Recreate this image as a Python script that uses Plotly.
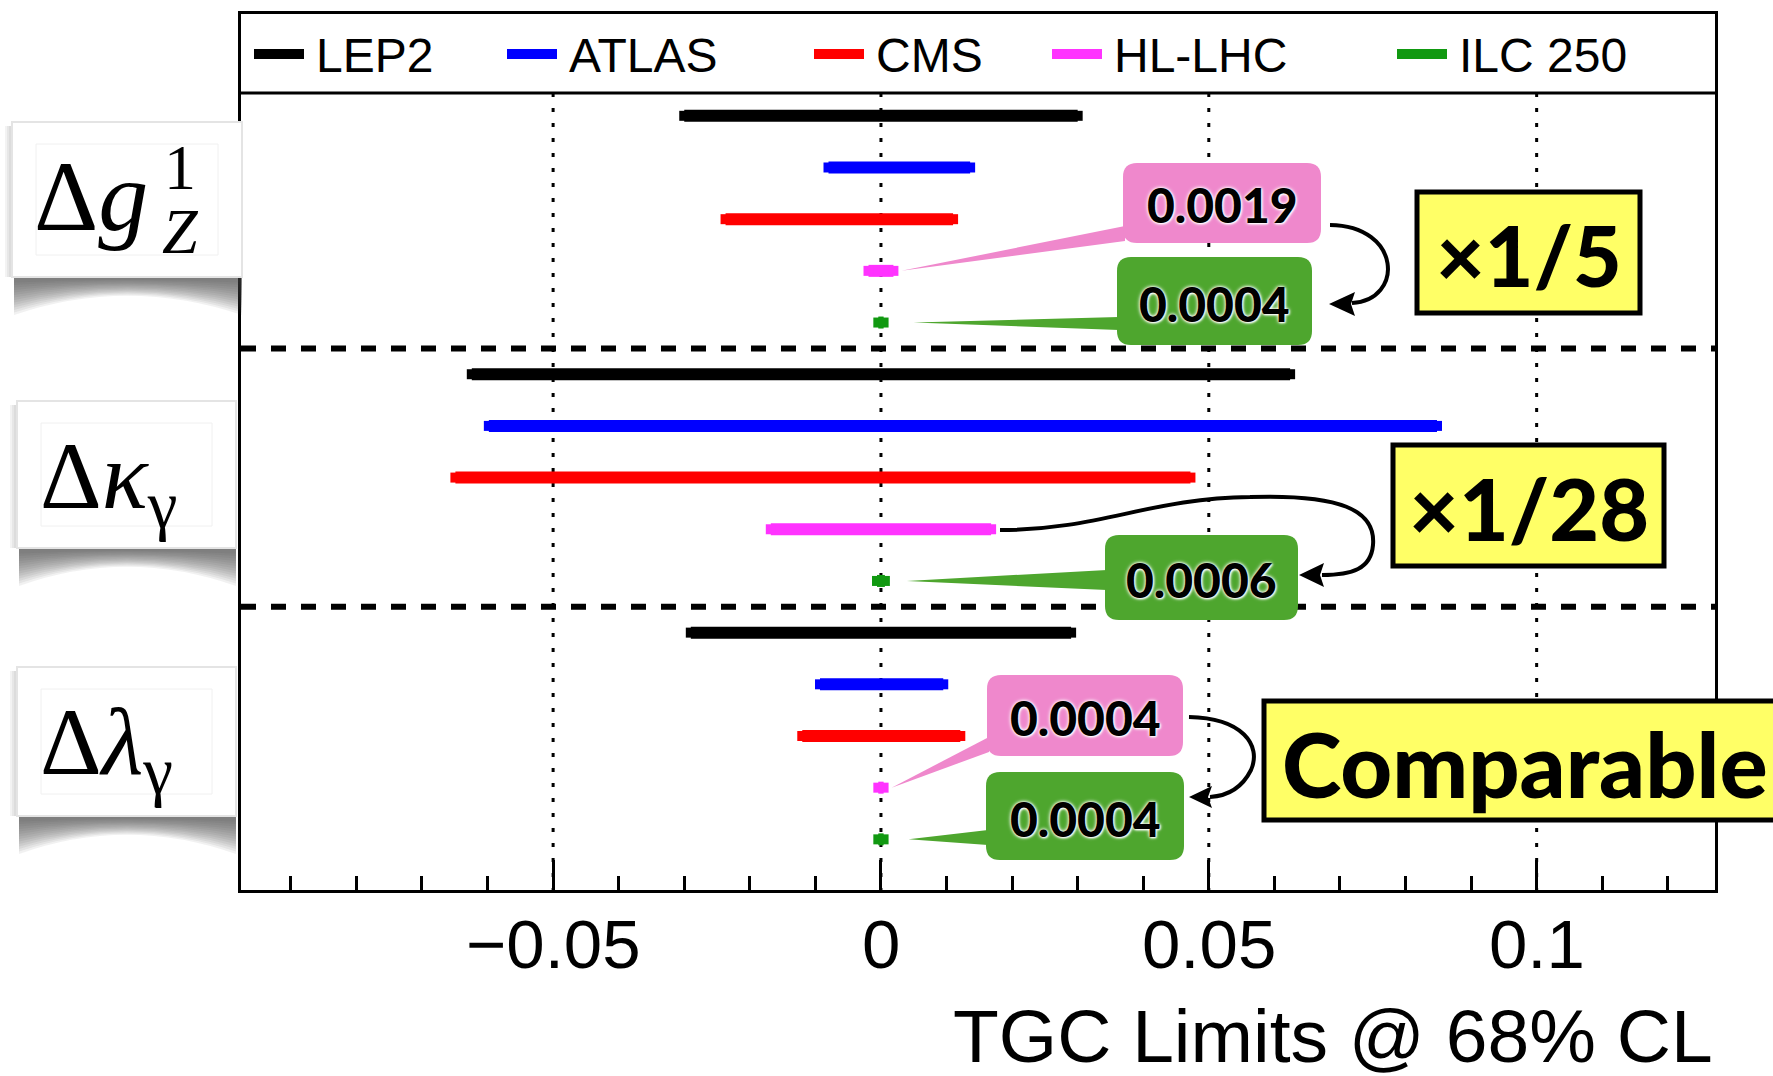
import plotly.graph_objects as go

# ---- data -------------------------------------------------------------
experiments = ["LEP2", "ATLAS", "CMS", "HL-LHC", "ILC 250"]
colors = ["#000000", "#0000ff", "#ff0000", "#ff33ff", "#119911"]

# 68% CL intervals for (Δg1Z, Δκγ, Δλγ)
lep2_lo = [-0.0300, -0.0624, -0.0290]
lep2_hi = [0.0300, 0.0624, 0.0290]
atlas_lo = [-0.0080, -0.0598, -0.0093]
atlas_hi = [0.0136, 0.0848, 0.0095]
cms_lo = [-0.0237, -0.0649, -0.0120]
cms_hi = [0.0110, 0.0472, 0.0121]
hllhc_lo = [-0.0019, -0.0168, -0.0004]
hllhc_hi = [0.0019, 0.0168, 0.0004]
ilc_lo = [-0.0004, -0.0006, -0.0004]
ilc_hi = [0.0004, 0.0006, 0.0004]

lows = [lep2_lo, atlas_lo, cms_lo, hllhc_lo, ilc_lo]
highs = [lep2_hi, atlas_hi, cms_hi, hllhc_hi, ilc_hi]

tick_vals = [-0.05, 0, 0.05, 0.1]
tick_text = ["\u22120.05", "0", "0.05", "0.1"]

# ---- geometry ---------------------------------------------------------
W, H = 1773, 1076
L, R, T, B = 241, 58, 14, 186
XMIN, XMAX = -0.0976, 0.1272
YTOP, YBOT = -1.97, 14.98
PW, PH = W - L - R, H - T - B


def X(px):
    return XMIN + (px - L) / PW * (XMAX - XMIN)


def Y(py):
    return YTOP + (py - T) / PH * (YBOT - YTOP)


def PX(px):
    return (px - L) / PW


def PY(py):
    return (H - B - py) / PH


def dx(px):
    return px / PW * (XMAX - XMIN)


def row(param, exp):
    return param * 5 + exp


fig = go.Figure()

for e, name in enumerate(experiments):
    for p in range(3):
        fig.add_trace(go.Scatter(
            x=[lows[e][p], highs[e][p]], y=[row(p, e)] * 2,
            mode="lines+markers",
            line=dict(color=colors[e], width=12),
            marker=dict(symbol="square", size=10, color=colors[e], line=dict(width=0)),
            showlegend=False, hoverinfo="skip"))

shapes = []
ann = []

# dotted grid lines below the legend strip
for v in tick_vals:
    shapes.append(dict(type="line", xref="x", yref="y", x0=v, x1=v, y0=Y(93), y1=YBOT,
                       line=dict(color="black", width=3, dash="4px,11px"), layer="below"))
# tick labels
for v, t in zip(tick_vals, tick_text):
    ann.append(dict(text=t, xref="x", yref="paper", x=v, y=PY(944), xanchor="center",
                    yanchor="middle", showarrow=False,
                    font=dict(family="Liberation Sans, Arial", size=69, color="black")))
# dashed separators between couplings
for ysep in [4.5, 9.5]:
    shapes.append(dict(type="line", xref="paper", yref="y", x0=0, x1=1, y0=ysep, y1=ysep,
                       line=dict(color="black", width=6, dash="15px,15px")))
# legend strip
shapes.append(dict(type="line", xref="paper", yref="paper", x0=0, x1=1, y0=PY(93), y1=PY(93),
                   line=dict(color="black", width=3)))
leg_sw = [254, 507, 814, 1052, 1397]
for e, name in enumerate(experiments):
    x0 = leg_sw[e]
    shapes.append(dict(type="line", xref="paper", yref="paper", x0=PX(x0), x1=PX(x0 + 50),
                       y0=PY(54), y1=PY(54), line=dict(color=colors[e], width=10)))
    ann.append(dict(text=name, xref="paper", yref="paper", x=PX(x0 + 60), y=PY(55),
                    xanchor="left", yanchor="middle", showarrow=False,
                    font=dict(family="Liberation Sans, Arial", size=48, color="black")))


def rrect(x0, y0, x1, y1, r, fill):
    rx, ry = r / PW, -r / PH
    a, b, c, d = PX(x0), PY(y0), PX(x1), PY(y1)
    path = (f"M {a+rx},{b} L {c-rx},{b} Q {c},{b} {c},{b+ry} L {c},{d-ry} Q {c},{d} {c-rx},{d} "
            f"L {a+rx},{d} Q {a},{d} {a},{d-ry} L {a},{b+ry} Q {a},{b} {a+rx},{b} Z")
    return dict(type="path", xref="paper", yref="paper", path=path, fillcolor=fill,
                line=dict(width=0))


def wedge(bx, by0, by1, tx, ty, fill):
    path = f"M {X(bx)},{Y(by0)} L {tx},{ty} L {X(bx)},{Y(by1)} Z"
    return dict(type="path", xref="x", yref="y", path=path, fillcolor=fill, line=dict(width=0))


PINK, GREEN, YEL = "#ef88cc", "#4ea62e", "#ffff66"
cfont = dict(family="Lato", size=48, color="black", weight=900,
             shadow="0px 0px 4px white, 0px 0px 3px white, 1px 1px 2px white")

# callouts: (box px, fill, text, wedge base y-range, tip data coords)
callouts = [
    ((1123, 163, 1321, 243), PINK, f"{hllhc_hi[0]:.4f}", (226, 241), (hllhc_hi[0] + dx(8), row(0, 3))),
    ((1117, 257, 1312, 345), GREEN, f"{ilc_hi[0]:.4f}", (317, 330), (ilc_hi[0] + dx(30), row(0, 4))),
    ((1105, 535, 1298, 620), GREEN, f"{ilc_hi[1]:.4f}", (570, 590), (ilc_hi[1] + dx(22), row(1, 4))),
    ((987, 675, 1183, 756), PINK, f"{hllhc_hi[2]:.4f}", (737, 752), (hllhc_hi[2] + dx(8), row(2, 3))),
    ((986, 772, 1184, 860), GREEN, f"{ilc_hi[2]:.4f}", (830, 845), (ilc_hi[2] + dx(25), row(2, 4))),
]
for (x0, y0, x1, y1), fill, txt, (b0, b1), (tx, ty) in callouts:
    shapes.append(wedge(x0 + 2, b0, b1, tx, ty, fill))
    shapes.append(rrect(x0, y0, x1, y1, 14, fill))
    ann.append(dict(text=txt, xref="paper", yref="paper", x=PX((x0 + x1) / 2), y=PY((y0 + y1) / 2 + 2),
                    xanchor="center", yanchor="middle", showarrow=False, font=cfont))

# curved arrows between HL-LHC and ILC callouts
arrows = [
    ("M {} C {} {} {}", [(1330, 225), (1402, 226), (1404, 300), (1352, 303)], (1329, 304), 1355, 12),
    ("M {} C {} {} {} C {} {} {} C {} {} {}",
     [(1000, 530), (1100, 530), (1150, 498), (1250, 497), (1340, 494), (1376, 510), (1373, 545),
      (1371, 569), (1352, 575), (1322, 575)], (1299, 575), 1324, 12),
    ("M {} C {} {} {} C {} {} {}",
     [(1189, 717), (1242, 718), (1262, 745), (1251, 770), (1241, 790), (1226, 796), (1210, 797)],
     (1189, 797), 1212, 11),
]
for fmt, pts, tip, bx, hw in arrows:
    coords = [f"{PX(a)},{PY(b)}" for a, b in pts]
    shapes.append(dict(type="path", xref="paper", yref="paper", path=fmt.format(*coords),
                       line=dict(color="black", width=4)))
    tpx, tpy = tip
    shapes.append(dict(type="path", xref="paper", yref="paper",
                       path=f"M {PX(tpx)},{PY(tpy)} L {PX(bx)},{PY(tpy - hw)} L {PX(bx - 4)},{PY(tpy)} "
                            f"L {PX(bx)},{PY(tpy + hw)} Z",
                       fillcolor="black", line=dict(width=0)))

# yellow ratio boxes
yboxes = [((1417, 192, 1640, 313), "\u00d71/5", "center", 84),
          ((1393, 445, 1664, 566), "\u00d71/28", "center", 86),
          ((1264, 701, 1800, 820), "Comparable", "left", 90)]
for (x0, y0, x1, y1), txt, anchor, fs in yboxes:
    shapes.append(dict(type="rect", xref="paper", yref="paper", x0=PX(x0), x1=PX(x1),
                       y0=PY(y0), y1=PY(y1), fillcolor=YEL, line=dict(color="black", width=5)))
    xt = (x0 + x1) / 2 if anchor == "center" else x0 + 16
    ann.append(dict(text=txt, xref="paper", yref="paper", x=PX(xt), y=PY((y0 + y1) / 2 + 2),
                    xanchor=anchor, yanchor="middle", showarrow=False,
                    font=dict(family="Lato", size=fs, color="black", weight=900)))

# coupling label tiles on the left
tiles = [(12, 122, 242, 277), (17, 401, 236, 548), (17, 667, 236, 816)]
for x0, y0, x1, y1 in tiles:
    # curled shadow under the tile, built from thin translucent layers
    n = 14
    for k in range(n):
        depth = 38 - k * 2.5
        mid = max(1.5, 9 - k * 0.6)
        path = (f"M {PX(x0 + 2)},{PY(y1)} L {PX(x1)},{PY(y1)} L {PX(x1)},{PY(y1 + depth)} "
                f"Q {PX((x0 + x1) / 2)},{PY(y1 + mid - depth * 0.25)} {PX(x0 + 2)},{PY(y1 + depth)} Z")
        shapes.append(dict(type="path", xref="paper", yref="paper", path=path,
                           fillcolor="rgba(70,70,70,0.075)", line=dict(width=0)))
    # soft left edge
    for k in range(4):
        shapes.append(dict(type="rect", xref="paper", yref="paper", x0=PX(x0 - 7 + 2 * k), x1=PX(x0 + 2),
                           y0=PY(y0 + 4), y1=PY(y1), fillcolor="rgba(90,90,90,0.07)", line=dict(width=0)))
    shapes.append(dict(type="rect", xref="paper", yref="paper", x0=PX(x0), x1=PX(x1), y0=PY(y0), y1=PY(y1),
                       fillcolor="white", line=dict(color="#e4e4e4", width=2)))
    shapes.append(dict(type="rect", xref="paper", yref="paper", x0=PX(x0 + 24), x1=PX(x1 - 24),
                       y0=PY(y0 + 22), y1=PY(y1 - 22), fillcolor="rgba(0,0,0,0)",
                       line=dict(color="#f0f0f0", width=1)))

serif = "Liberation Serif, DejaVu Serif, serif"
ann.append(dict(text="\u0394<i>g</i>", xref="paper", yref="paper", x=PX(32), y=PY(196),
                xanchor="left", yanchor="middle", showarrow=False,
                font=dict(family=serif, size=100, color="black")))
ann.append(dict(text="1", xref="paper", yref="paper", x=PX(180), y=PY(168),
                xanchor="center", yanchor="middle", showarrow=False,
                font=dict(family=serif, size=64, color="black")))
ann.append(dict(text="<i>Z</i>", xref="paper", yref="paper", x=PX(180), y=PY(232),
                xanchor="center", yanchor="middle", showarrow=False,
                font=dict(family=serif, size=64, color="black")))
ann.append(dict(text="\u0394<i>\u03ba</i><sub>\u03b3</sub>", xref="paper", yref="paper", x=PX(38), y=PY(482),
                xanchor="left", yanchor="middle", showarrow=False,
                font=dict(family=serif, size=96, color="black")))
ann.append(dict(text="\u0394<i>\u03bb</i><sub>\u03b3</sub>", xref="paper", yref="paper", x=PX(38), y=PY(748),
                xanchor="left", yanchor="middle", showarrow=False,
                font=dict(family=serif, size=96, color="black")))

# x-axis title
ann.append(dict(text="TGC Limits @ 68% CL", xref="paper", yref="paper", x=1.0, y=PY(1036),
                xanchor="right", yanchor="middle", showarrow=False,
                font=dict(family="Liberation Sans, Arial", size=75, color="black")))

fig.update_layout(
    width=W, height=H, margin=dict(l=L, r=R, t=T, b=B),
    paper_bgcolor="white", plot_bgcolor="white",
    shapes=shapes, annotations=ann, showlegend=False,
    xaxis=dict(range=[XMIN, XMAX], tickvals=tick_vals, showticklabels=False,
               ticks="inside", ticklen=30, tickwidth=2.5, tickcolor="black",
               minor=dict(dtick=0.01, tick0=0, ticks="inside", ticklen=14, tickwidth=2.5, tickcolor="black"),
               showgrid=False, zeroline=False, showline=True, linecolor="black", linewidth=3,
               mirror=True),
    yaxis=dict(range=[YBOT, YTOP], showticklabels=False, ticks="", showgrid=False,
               zeroline=False, showline=True, linecolor="black", linewidth=3, mirror=True),
)

fig.write_html("out.html")
